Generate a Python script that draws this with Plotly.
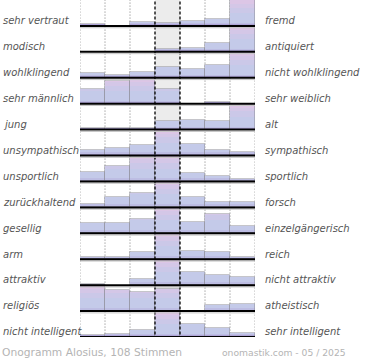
import plotly.graph_objects as go

left_labels = ["sehr vertraut", "modisch", "wohlklingend", "sehr männlich", "jung",
               "unsympathisch", "unsportlich", "zurückhaltend", "gesellig", "arm",
               "attraktiv", "religiös", "nicht intelligent"]
right_labels = ["fremd", "antiquiert", "nicht wohlklingend", "sehr weiblich", "alt",
                "sympathisch", "sportlich", "forsch", "einzelgängerisch", "reich",
                "nicht attraktiv", "atheistisch", "sehr intelligent"]

# relative bar heights per row (100 = tallest answer of the row), 7 scale steps
row_values = [
    [7, 0, 17, 13, 20, 26, 100],
    [0, 0, 0, 10, 14, 36, 100],
    [19, 12, 22, 43, 33, 50, 100],
    [58, 86, 100, 58, 0, 6, 0],
    [6, 6, 6, 32, 38, 33, 100],
    [20, 28, 41, 100, 45, 23, 12],
    [37, 58, 95, 100, 32, 22, 9],
    [13, 42, 54, 100, 41, 22, 22],
    [38, 41, 54, 100, 45, 73, 29],
    [9, 9, 26, 100, 31, 26, 10],
    [6, 0, 22, 100, 49, 38, 32],
    [100, 83, 74, 87, 0, 23, 27],
    [9, 13, 26, 100, 51, 35, 17],
]

footer_left = "Onogramm Alosius, 108 Stimmen"
footer_right = "onomastik.com - 05 / 2025"

n_rows = len(row_values)
cols = list(range(7))

# gradient layers: (clip level, colour)
layers = [(100, "#dcc6e6"), (85, "#d4c7e7"), (70, "#cbc8e8"), (50, "#c4cae9"),
          (12, "#bdbde3"), (6, "#aea4d6")]

fig = go.Figure()
for level, color in layers:
    for r, vals in enumerate(row_values):
        base = n_rows - 1 - r
        fig.add_trace(go.Bar(
            x=cols, y=[min(v, level) / 100 if v > 0 else None for v in vals],
            base=base, width=1, marker=dict(color=color, line=dict(width=0)),
            showlegend=False, hoverinfo="skip"))
# outline layer
for r, vals in enumerate(row_values):
    base = n_rows - 1 - r
    fig.add_trace(go.Bar(
        x=cols, y=[v / 100 if v > 0 else None for v in vals],
        base=base, width=1,
        marker=dict(color="rgba(0,0,0,0)", line=dict(width=1, color="rgba(140,140,150,0.5)")),
        showlegend=False, hoverinfo="skip"))

shapes = [dict(type="rect", xref="x", yref="y", x0=2.5, x1=3.5, y0=-0.1, y1=n_rows,
               fillcolor="#ececec", line=dict(width=0), layer="below")]
for xv in [-0.5, 0.5, 1.5, 4.5, 5.5, 6.5]:
    shapes.append(dict(type="line", xref="x", yref="y", x0=xv, x1=xv, y0=-0.1, y1=n_rows,
                       line=dict(color="#7a7a7a", width=1, dash="1px,2px"), layer="below"))
for xv in [2.5, 3.5]:
    shapes.append(dict(type="line", xref="x", yref="y", x0=xv, x1=xv, y0=-0.1, y1=n_rows,
                       line=dict(color="#000000", width=1.3, dash="3px,2px"), layer="above"))
for r in range(n_rows):
    yb = n_rows - 1 - r
    shapes.append(dict(type="line", xref="x", yref="y", x0=-0.5, x1=6.5, y0=yb - 0.07, y1=yb - 0.07,
                       line=dict(color="#c4c4c4", width=1), layer="above"))
    shapes.append(dict(type="line", xref="x", yref="y", x0=-0.5, x1=6.5, y0=yb, y1=yb,
                       line=dict(color="#000000", width=2), layer="above"))

annotations = []
label_font = dict(family="DejaVu Sans", size=10, color="#555555")
for r in range(n_rows):
    yb = n_rows - 1 - r
    annotations.append(dict(xref="paper", yref="y", x=(1 - 80) / 175, y=yb + 0.2,
                            text="<i>%s</i>" % left_labels[r], showarrow=False,
                            xanchor="left", yanchor="middle", font=label_font))
    annotations.append(dict(xref="paper", yref="y", x=(263 - 80) / 175, y=yb + 0.2,
                            text="<i>%s</i>" % right_labels[r], showarrow=False,
                            xanchor="left", yanchor="middle", font=label_font))
annotations.append(dict(xref="paper", yref="paper", x=(0 - 80) / 175, y=(337 - 352) / 337,
                        text=footer_left, showarrow=False, xanchor="left", yanchor="middle",
                        font=dict(family="DejaVu Sans", size=10.7, color="#b4b4b4")))
annotations.append(dict(xref="paper", yref="paper", x=(348 - 80) / 175, y=(337 - 352) / 337,
                        text=footer_right, showarrow=False, xanchor="right", yanchor="middle",
                        font=dict(family="DejaVu Sans", size=9.2, color="#b4b4b4")))

fig.update_layout(
    width=370, height=360,
    margin=dict(l=80, r=115, t=0, b=23, pad=0),
    paper_bgcolor="white", plot_bgcolor="white",
    barmode="overlay", bargap=0,
    xaxis=dict(range=[-0.5, 6.5], showgrid=False, zeroline=False, showticklabels=False,
               fixedrange=True),
    yaxis=dict(range=[0, n_rows], showgrid=False, zeroline=False, showticklabels=False,
               fixedrange=True),
    shapes=shapes, annotations=annotations, showlegend=False,
)

fig.write_html("out.html", config={"displayModeBar": False},
               post_script="document.body.style.margin='0';document.body.style.overflow='hidden';")
